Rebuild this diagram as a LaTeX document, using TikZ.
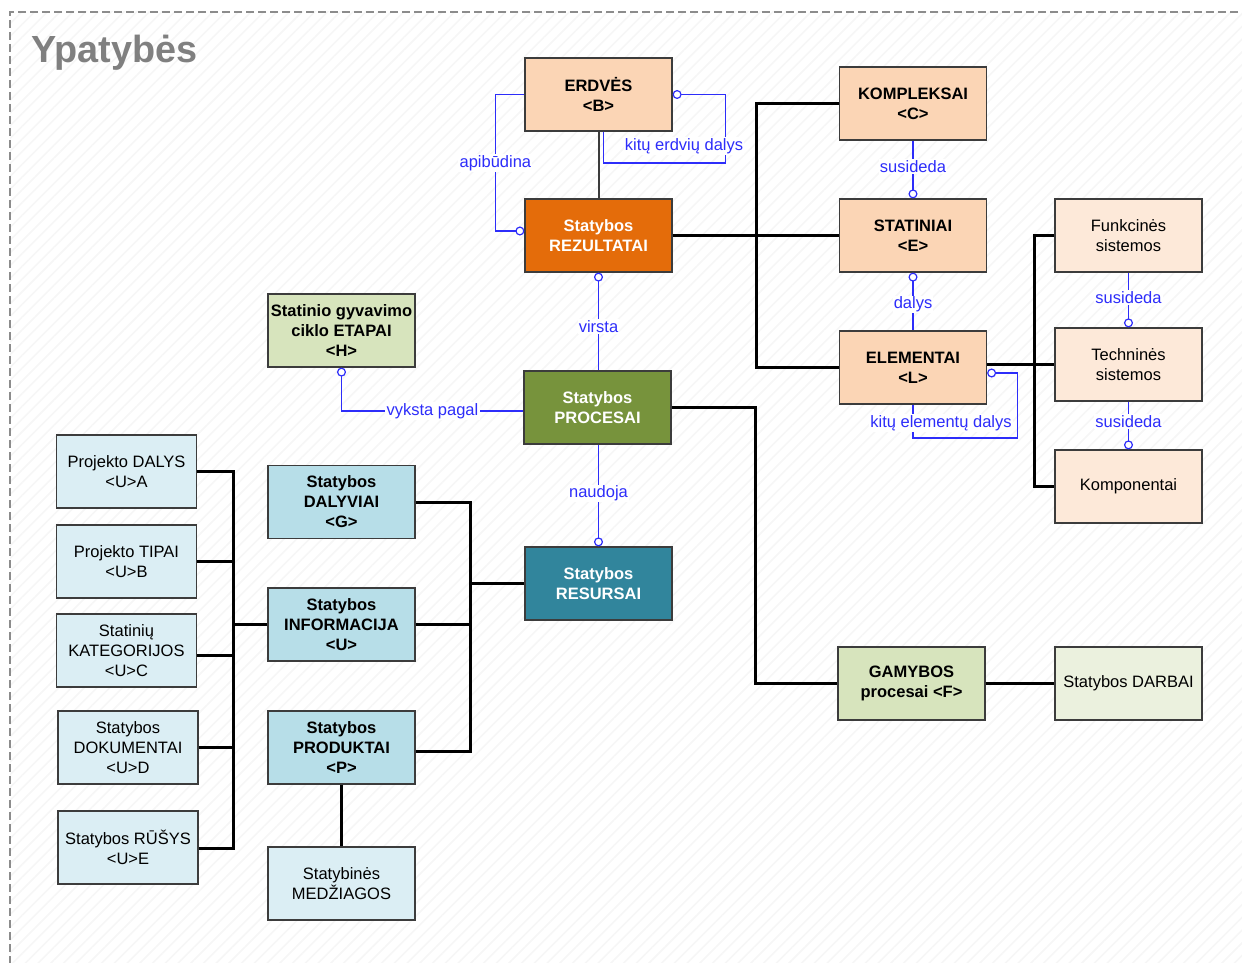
\documentclass[tikz,border=0pt]{standalone}
\usepackage{fontspec}
\setmainfont{Liberation Sans}
\usetikzlibrary{calc,arrows.meta,patterns.meta}
\definecolor{boxline}{RGB}{60,60,60}
\definecolor{relblue}{RGB}{45,45,250}
\definecolor{peach}{RGB}{251,213,181}
\definecolor{lpeach}{RGB}{253,233,217}
\definecolor{orng}{RGB}{228,108,10}
\definecolor{lgreen}{RGB}{215,228,189}
\definecolor{llgreen}{RGB}{235,241,222}
\definecolor{olive}{RGB}{119,147,60}
\definecolor{mblue}{RGB}{183,222,232}
\definecolor{lblue}{RGB}{219,238,244}
\definecolor{teal}{RGB}{49,133,156}
\begin{document}
\begin{tikzpicture}[x=1pt,y=-1pt,
  box/.style={draw=boxline, line width=1.2pt, minimum width=147pt, minimum height=73pt,
    align=center, inner sep=1pt, font=\fontsize{16.5}{20}\selectfont},
  bbox/.style={box, font=\fontsize{16.5}{20}\selectfont\bfseries},
  wbox/.style={bbox, text=white},
  sbox/.style={box, minimum width=140pt},
  bus/.style={line width=3pt, black},
  rel/.style={draw=relblue, line width=1.2pt},
  lbl/.style={text=relblue, font=\fontsize{16.5}{18}\selectfont, fill=white, inner sep=1.2pt},
  ringtip/.tip={Circle[length=9pt, width=9pt, fill=white]}
]
\useasboundingbox (0,0) rectangle (1242,963);
% background
\fill[pattern={Lines[angle=45,distance=9pt,line width=1.6pt]}, pattern color=gray!7] (10,12) rectangle (1250,975);
\draw[gray!90, line width=1.8pt, dash pattern=on 8pt off 4pt] (1250,12) -- (10,12) -- (10,975);
\node[font=\fontsize{37.8}{42}\selectfont\bfseries, text=gray, anchor=base west, inner sep=0pt] (title) at (31,63) {Ypatybės};

% nodes
\node[bbox, fill=peach] (erd) at (598.5,94.5) {ERDVĖS\\<B>};
\node[wbox, fill=orng] (rez) at (598.5,235.5) {Statybos\\REZULTATAI};
\node[bbox, fill=peach] (komp) at (913,103.5) {KOMPLEKSAI\\<C>};
\node[bbox, fill=peach] (stat) at (913,235.5) {STATINIAI\\<E>};
\node[bbox, fill=peach] (elem) at (913,367.5) {ELEMENTAI\\<L>};
\node[box, fill=lpeach] (funk) at (1128.5,235.5) {Funkcinės\\sistemos};
\node[box, fill=lpeach] (tech) at (1128.5,364.5) {Techninės\\sistemos};
\node[box, fill=lpeach] (kmpn) at (1128.5,486.5) {Komponentai};
\node[bbox, fill=lgreen] (etap) at (341.5,330.5) {Statinio gyvavimo\\ciklo ETAPAI\\<H>};
\node[wbox, fill=olive] (proc) at (597.5,407.5) {Statybos\\PROCESAI};
\node[wbox, fill=teal] (res) at (598.5,583.5) {Statybos\\RESURSAI};
\node[bbox, fill=lgreen] (gam) at (911.5,683.5) {GAMYBOS\\procesai <F>};
\node[box, fill=llgreen] (darb) at (1128.5,683.5) {Statybos DARBAI};
\node[bbox, fill=mblue] (dal) at (341.5,502) {Statybos\\DALYVIAI\\<G>};
\node[bbox, fill=mblue] (info) at (341.5,624.5) {Statybos\\INFORMACIJA\\<U>};
\node[bbox, fill=mblue] (prod) at (341.5,747.5) {Statybos\\PRODUKTAI\\<P>};
\node[box, fill=lblue] (med) at (341.5,883.5) {Statybinės\\MEDŽIAGOS};
\node[sbox, fill=lblue] (pdal) at (126.5,471.5) {Projekto DALYS\\<U>A};
\node[sbox, fill=lblue] (ptip) at (126.5,561.5) {Projekto TIPAI\\<U>B};
\node[sbox, fill=lblue] (kat) at (126.5,650.5) {Statinių\\KATEGORIJOS\\<U>C};
\node[sbox, fill=lblue] (dok) at (128,747.5) {Statybos\\DOKUMENTAI\\<U>D};
\node[sbox, fill=lblue] (rus) at (128,847.5) {Statybos RŪŠYS\\<U>E};

% black connectors
\coordinate (bA) at (756,0);
\coordinate (bB) at (1034,0);
\coordinate (bC) at (470,0);
\coordinate (bD) at (233,0);
\draw[boxline, line width=2pt] (erd.south) -- (rez.north);
\draw[bus] (rez.east) -- (stat.west);
\draw[bus] (komp.west) -- (komp.west -| bA) -- (elem.west -| bA) -- (elem.west);
\draw[bus] (elem.east |- tech.west) -- (tech.west);
\draw[bus] (funk.west) -- (funk.west -| bB) -- (kmpn.west -| bB) -- (kmpn.west);
\draw[bus] (proc.east) -- ++(84,0) |- (gam.west);
\draw[bus] (gam.east) -- (darb.west);
\draw[bus] (res.west) -- (res.west -| bC);
\draw[bus] (dal.east) -- (dal.east -| bC) -- ($(prod.east -| bC)+(0,3.5)$) -- ($(prod.east)+(0,3.5)$);
\draw[bus] (info.east) -- (info.east -| bC);
\draw[bus] (info.west) -- (info.west -| bD);
\draw[bus] (pdal.east) -- (pdal.east -| bD) -- ($(rus.east -| bD)+(0,1)$) -- ($(rus.east)+(0,1)$);
\draw[bus] (ptip.east) -- (ptip.east -| bD);
\draw[bus] ($(kat.east)+(0,5)$) -- ($(kat.east -| bD)+(0,5)$);
\draw[bus] (dok.east) -- (dok.east -| bD);
\draw[bus] (prod.south) -- (med.north);

% blue relations
\draw[rel, -ringtip] (erd.west) -- ++(-29,0) |- ($(rez.west)+(0,-4.5)$)
  node[lbl, pos=0.25] (l1) {apibūdina};
\draw[rel, -ringtip] ($(erd.south)+(5,0)$) |- ($(erd.east)+(53,68.5)$) -- ($(erd.east)+(53,0)$) -- (erd.east);
\node[lbl] (l2) at (684,146) {kitų erdvių dalys};
\draw[rel, ringtip-] (rez.south) -- (rez.south |- proc.north) node[lbl, pos=0.55] (l3) {virsta};
\draw[rel, ringtip-] (etap.south) |- ($(proc.west)+(0,3.5)$) node[lbl, pos=0.75] (l4) {vyksta pagal};
\draw[rel, -ringtip] (proc.south -| res.north) -- (res.north) node[lbl, pos=0.48] (l5) {naudoja};
\draw[rel, -ringtip] (komp.south) -- (stat.north) node[lbl, pos=0.45] (l6) {susideda};
\draw[rel, ringtip-] (stat.south) -- (elem.north) node[lbl, pos=0.55] (l7) {dalys};
\draw[rel, -ringtip] (elem.south) |- ($(elem.east)+(30,70.5)$) -- ($(elem.east)+(30,5.5)$) -- ($(elem.east)+(0,5.5)$);
\node[lbl] (l8) at (941,423) {kitų elementų dalys};
\draw[rel, -ringtip] (funk.south) -- (tech.north) node[lbl, pos=0.45] (l9) {susideda};
\draw[rel, -ringtip] (tech.south) -- (kmpn.north) node[lbl, pos=0.42] (l10) {susideda};
\end{tikzpicture}
\end{document}
